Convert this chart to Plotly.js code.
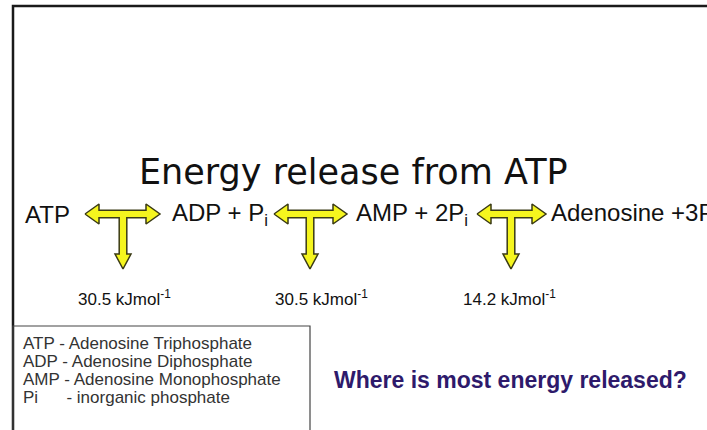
<!DOCTYPE html>
<html><head><meta charset="utf-8">
<script src="https://cdn.plot.ly/plotly-3.0.1.min.js"></script>
<style>html,body{margin:0;padding:0;background:#fff;overflow:hidden}#chart{width:707px;height:430px;}</style>
</head><body><div id="chart"></div>
<script>
// ---- content ----
const titleText = 'Energy release from ATP';
const species = ['ATP', 'ADP + P<sub>i</sub>', 'AMP + 2P<sub>i</sub>', 'Adenosine +3P<sub>i</sub>'];
const energies = [30.5, 30.5, 14.2];
const energyUnit = 'kJmol<sup>-1</sup>';
const glossaryTerms = ['ATP', 'ADP', 'AMP', 'Pi'];
const glossaryDefs = ['Adenosine Triphosphate', 'Adenosine Diphosphate', 'Adenosine Monophosphate', 'inorganic phosphate'];
const question = 'Where is most energy released?';

// ---- layout (slide pixel coordinates) ----
const W = 707, H = 430;
const speciesX = [23, 170, 354, 549];
const rowY = 214;
const arrowL = [85, 274, 477];
const arrowR = [160, 347, 546];
const arrowC = [123, 310, 511];
const arrowTipY = 269;
const energyX = [124, 321, 509];
const energyY = 298;
const glossX = 22, glossY0 = 343, glossDY = 18.3;
const glossPad = ['', '', '', '&nbsp;&nbsp;&nbsp;&nbsp;&nbsp;'];

const arial = 'Liberation Sans, Arial, sans-serif';

function arrowPath(l, r, c, ys, yt) {
  const h = 3.8, Hh = 10, L = 14, w = 3.8, Wd = 8, D = 15;
  const pts = [
    [l, ys], [l + L, ys - Hh], [l + L, ys - h], [r - L, ys - h], [r - L, ys - Hh], [r, ys],
    [r - L, ys + Hh], [r - L, ys + h], [c + w, ys + h], [c + w, yt - D], [c + Wd, yt - D], [c, yt],
    [c - Wd, yt - D], [c - w, yt - D], [c - w, ys + h], [l + L, ys + h], [l + L, ys + Hh], [l, ys]
  ];
  return {x: pts.map(p => p[0]), y: pts.map(p => p[1])};
}

const traces = energies.map((e, i) => {
  const p = arrowPath(arrowL[i], arrowR[i], arrowC[i], rowY, arrowTipY);
  return {type: 'scatter', mode: 'lines', x: p.x, y: p.y, fill: 'toself',
    fillcolor: '#f5f51e', line: {color: '#3a3a14', width: 1.5}, hoverinfo: 'skip', showlegend: false};
});

const annotations = [];
annotations.push({x: W / 2, y: 172, xref: 'x', yref: 'y', text: titleText, showarrow: false,
  xanchor: 'center', yanchor: 'middle', font: {family: 'DejaVu Sans', size: 35, color: '#111'}});
species.forEach((s, i) => annotations.push({x: speciesX[i], y: rowY, xref: 'x', yref: 'y', text: s,
  showarrow: false, xanchor: 'left', yanchor: 'middle', font: {family: arial, size: 24, color: '#111'}}));
energies.forEach((e, i) => annotations.push({x: energyX[i], y: energyY, xref: 'x', yref: 'y',
  text: e.toFixed(1) + ' ' + energyUnit, showarrow: false, xanchor: 'center', yanchor: 'middle',
  font: {family: arial, size: 17, color: '#111'}}));
glossaryTerms.forEach((t, i) => {
  annotations.push({x: glossX, y: glossY0 + i * glossDY, xref: 'x', yref: 'y',
    text: t + glossPad[i] + ' - ' + glossaryDefs[i], showarrow: false, borderpad: 0,
    xanchor: 'left', yanchor: 'middle', font: {family: arial, size: 17, color: '#333'}});
});
annotations.push({x: 332, y: 380, xref: 'x', yref: 'y', text: '<b>' + question + '</b>', showarrow: false,
  xanchor: 'left', yanchor: 'middle', font: {family: arial, size: 23, color: '#2e1a6b'}});

const shapes = [
  {type: 'path', path: 'M 13 440 L 13 6 L 720 6', xref: 'x', yref: 'y', line: {color: '#1a1a1a', width: 2.5}},
  {type: 'rect', x0: 13, y0: 326, x1: 310, y1: 445, xref: 'x', yref: 'y', line: {color: '#444', width: 1.2}}
];

const layout = {
  width: W, height: H, margin: {l: 0, r: 0, t: 0, b: 0},
  paper_bgcolor: '#fff', plot_bgcolor: '#fff',
  xaxis: {range: [0, W], visible: false, fixedrange: true},
  yaxis: {range: [H, 0], visible: false, fixedrange: true},
  showlegend: false, annotations, shapes
};
Plotly.newPlot('chart', traces, layout, {displayModeBar: false, staticPlot: true});
</script></body></html>
